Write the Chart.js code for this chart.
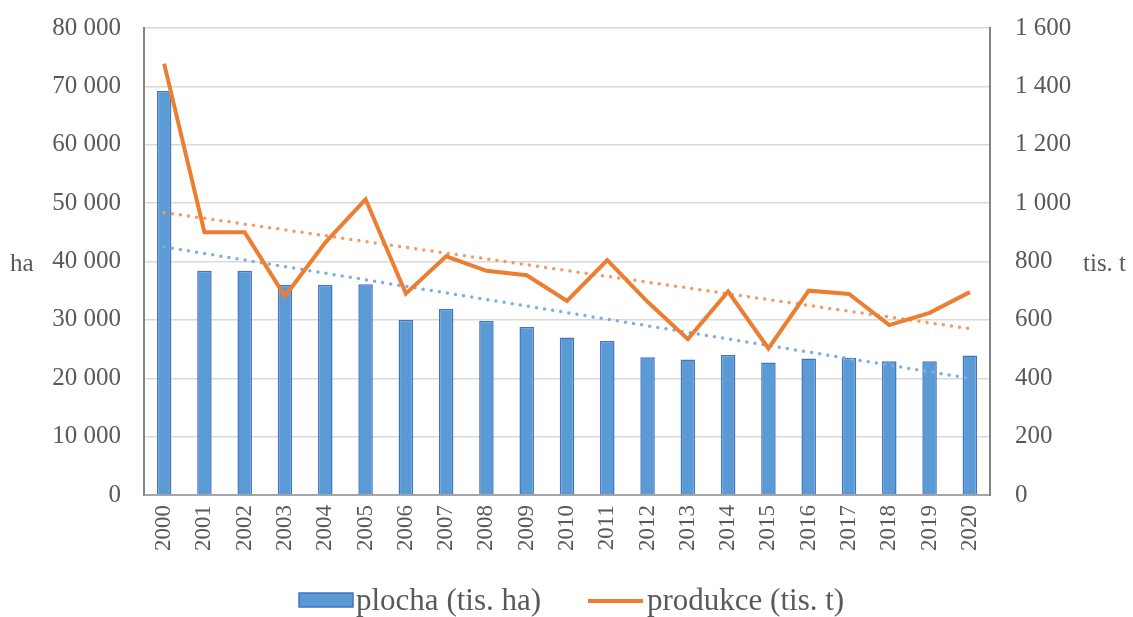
<!DOCTYPE html>
<html>
<head>
<meta charset="utf-8">
<script src="https://cdn.jsdelivr.net/npm/chart.js@4.4.0/dist/chart.umd.min.js"></script>
<style>
html,body{margin:0;padding:0;background:#fff;}
#wrap{width:1133px;height:617px;}
</style>
</head>
<body>
<div id="wrap"><canvas id="c" width="1133" height="617"></canvas></div>
<script>
const years = ['2000','2001','2002','2003','2004','2005','2006','2007','2008','2009','2010','2011','2012','2013','2014','2015','2016','2017','2018','2019','2020'];
const plocha = [69200,38400,38400,36000,36000,36100,30000,31900,29800,28800,27000,26400,23600,23200,24000,22700,23400,23500,22900,22900,23900];
const produkce = [1478,900,900,681,865,1013,690,818,768,753,665,805,662,534,697,502,700,689,582,624,695];
const plochaTrendEnds = [42500,19980];
const produkceTrendEnds = [968,570];
const leftTicks = {min:0,max:80000,step:10000};
const rightTicks = {min:0,max:1600,step:200};

function trendSeries(ends){
  const arr = years.map(()=>null);
  arr[0]=ends[0]; arr[arr.length-1]=ends[1];
  return arr;
}
function fmt(v){ return String(v).replace(/\B(?=(\d{3})+(?!\d))/g,' '); }

const FONT = 'Liberation Serif, Times New Roman, serif';
const GREY = '#595959';

const extras = {
  id:'extras',
  afterDraw(chart){
    const ctx = chart.ctx;
    ctx.save();
    ctx.fillStyle = GREY;
    ctx.font = '25px ' + FONT;
    ctx.textBaseline = 'middle';
    ctx.textAlign = 'left';
    ctx.fillText('ha', 10, 264);
    ctx.fillText('tis. t', 1083, 264);
    // legend
    ctx.fillStyle = '#5B9BD5';
    ctx.strokeStyle = '#4472C4';
    ctx.lineWidth = 1.5;
    ctx.fillRect(299,593,54,14);
    ctx.strokeRect(299,593,54,14);
    ctx.strokeStyle = '#ED7D31';
    ctx.lineWidth = 4;
    ctx.beginPath(); ctx.moveTo(588,601); ctx.lineTo(643,601); ctx.stroke();
    ctx.fillStyle = GREY;
    ctx.font = '31px ' + FONT;
    ctx.textBaseline = 'alphabetic';
    ctx.fillText('plocha (tis. ha)', 356, 610);
    ctx.fillText('produkce (tis. t)', 647, 610);
    ctx.restore();
  }
};

function noPadV(s){ s.paddingTop = 0; s.paddingBottom = 0; }

new Chart(document.getElementById('c'), {
  type:'bar',
  data:{
    labels: years,
    datasets:[
      {type:'line', label:'produkce (tis. t)', data: produkce, yAxisID:'y1', borderColor:'#ED7D31', backgroundColor:'#ED7D31', borderWidth:4, pointRadius:0, tension:0, order:0, borderJoinStyle:'miter'},
      {type:'line', label:'trend produkce', data: trendSeries(produkceTrendEnds), yAxisID:'y1', borderColor:'#F29B5E', borderWidth:3.5, borderDash:[0,8.2], borderCapStyle:'round', pointRadius:0, spanGaps:true, order:1},
      {type:'line', label:'trend plocha', data: trendSeries(plochaTrendEnds), yAxisID:'y', borderColor:'#7EADE0', borderWidth:3.5, borderDash:[0,8.2], borderCapStyle:'round', pointRadius:0, spanGaps:true, order:1},
      {type:'bar', label:'plocha (tis. ha)', data: plocha, yAxisID:'y', backgroundColor:'#5B9BD5', borderColor:'#4472C4', borderWidth:1.5, barPercentage:0.36, categoryPercentage:1, order:2}
    ]
  },
  options:{
    responsive:false,
    animation:false,
    layout:{padding:{top:28,left:0,right:0,bottom:0}},
    plugins:{legend:{display:false}, tooltip:{enabled:false}},
    scales:{
      x:{
        offset:true,
        grid:{display:false, drawTicks:false},
        border:{display:true,color:'#A6A6A6',width:2},
        ticks:{color:GREY, font:{family:FONT,size:23}, maxRotation:90, minRotation:90, padding:10, autoSkip:false},
        afterFit(s){ s.height = 122; s.paddingLeft = 0; s.paddingRight = 0; }
      },
      y:{
        position:'left',
        min:leftTicks.min, max:leftTicks.max,
        grid:{color:'#D9D9D9', lineWidth:1.5, drawTicks:false},
        border:{display:true,color:'#858585',width:2},
        ticks:{stepSize:leftTicks.step, color:GREY, font:{family:FONT,size:25}, padding:23, callback:(v)=>fmt(v)},
        afterFit(s){ s.width = 144; noPadV(s); }
      },
      y1:{
        position:'right',
        min:rightTicks.min, max:rightTicks.max,
        grid:{drawOnChartArea:false, drawTicks:false},
        border:{display:true,color:'#858585',width:2},
        ticks:{stepSize:rightTicks.step, color:GREY, font:{family:FONT,size:25}, padding:25, callback:(v)=>fmt(v)},
        afterFit(s){ s.width = 143; noPadV(s); }
      }
    }
  },
  plugins:[extras]
});
</script>
</body>
</html>
